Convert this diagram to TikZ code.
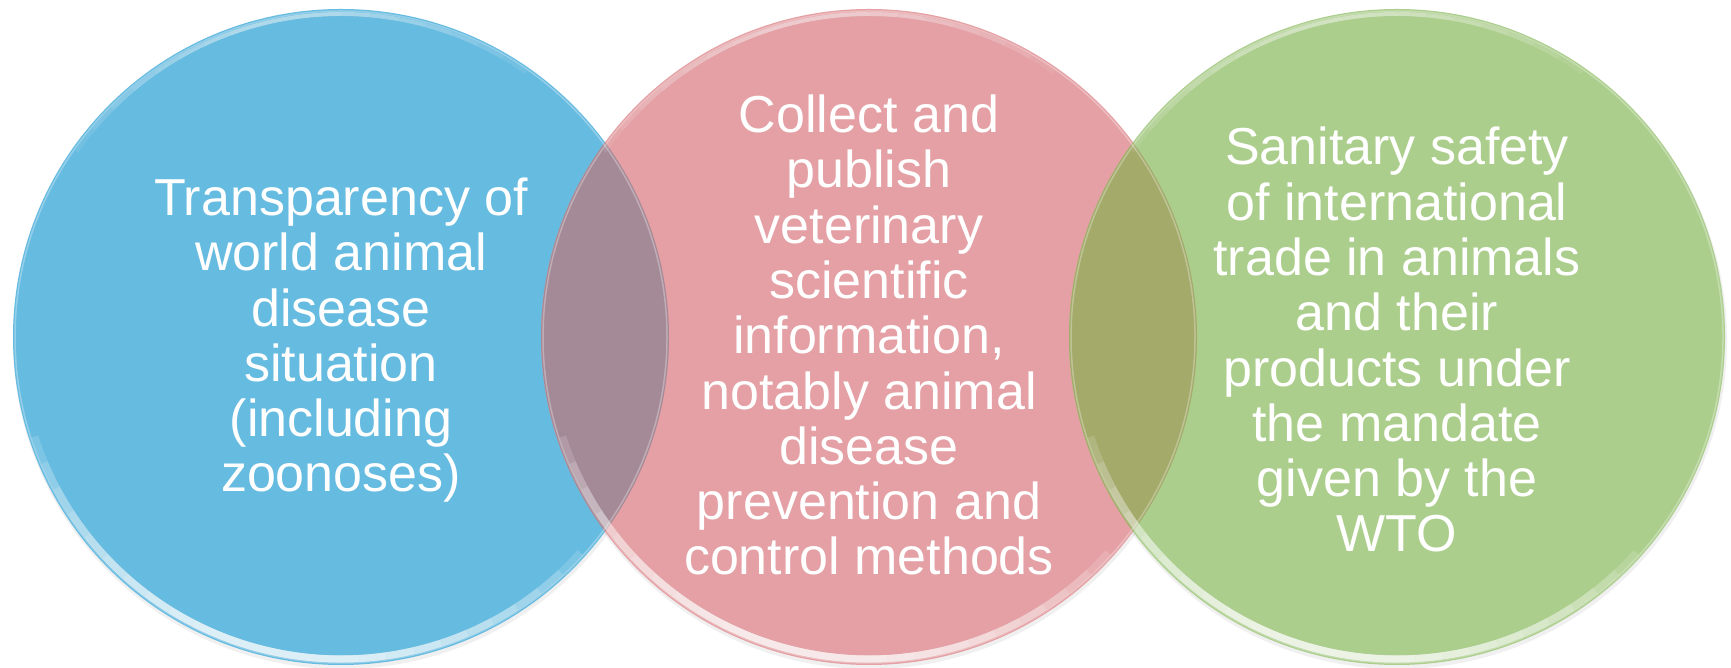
\documentclass[tikz,border=0pt]{standalone}
\usepackage{fontspec}
\setmainfont{Liberation Sans}
\definecolor{cblue}{HTML}{66BBE0}
\definecolor{cpink}{HTML}{E4A0A4}
\definecolor{cgreen}{HTML}{ACCE8D}
\definecolor{ovbp}{HTML}{A48996}
\definecolor{ovpg}{HTML}{A3AA6A}
\tikzset{
  disc/.style={circle, minimum size=656pt, inner sep=0pt, draw=none},
  txt/.style={text=white, align=center, inner sep=0pt,
    font=\fontsize{52}{55.3}\selectfont},
  toprim/.style={draw=white, line width=4pt, opacity=0.08, line cap=butt},
  botrim/.style={draw=white, line width=7pt, opacity=0.15, line cap=butt},
  edgeline/.style={draw=white, line width=1.5pt, opacity=0.3},
  shade/.style={fill=black, opacity=0.06}
}
\begin{document}
\begin{tikzpicture}[x=1pt,y=1pt]
\fill[white] (0,0) rectangle (1731,668);
\useasboundingbox (0,0) rectangle (1731,668);
% circle nodes
\node[disc] (c1) at (341,331) {};
\node[disc] (c2) at (869,331) {};
\node[disc] (c3) at (1397,331) {};
% soft shadows
\foreach \c in {c1,c2,c3}{
  \fill[shade] ([shift={(1,-3)}]\c.center) circle [radius=329];
}
% fills
\fill[cblue] (c1.center) circle [radius=328];
\fill[cpink] (c2.center) circle [radius=328];
\fill[cgreen] (c3.center) circle [radius=328];
% overlaps
\begin{scope}
  \clip (c1.center) circle [radius=328];
  \fill[ovbp] (c2.center) circle [radius=328];
\end{scope}
\begin{scope}
  \clip (c2.center) circle [radius=328];
  \fill[ovpg] (c3.center) circle [radius=328];
\end{scope}
% rims
\foreach \c in {c1,c2,c3}{
  \draw[edgeline] (\c.center) circle [radius=326];
  \foreach \k in {0,...,7}{
    \pgfmathsetmacro{\sa}{55+5*\k}
    \pgfmathsetmacro{\ea}{145-5*\k}
    \draw[toprim] ([shift={(\sa:323)}]\c.center) arc[start angle=\sa, end angle=\ea, radius=323];
  }
  \foreach \k in {0,...,9}{
    \pgfmathsetmacro{\sa}{198+5*\k}
    \pgfmathsetmacro{\ea}{318-5*\k}
    \draw[botrim] ([shift={(\sa:322)}]\c.center) arc[start angle=\sa, end angle=\ea, radius=322];
  }
}
% texts (base anchor = baseline of last line)
\node[txt, anchor=base] (t1) at (341,176)
  {Transparency of\\world animal\\disease\\situation\\(including\\zoonoses)};
\node[txt, anchor=base] (t2) at (869,93)
  {Collect and\\publish\\veterinary\\scientific\\information,\\notably animal\\disease\\prevention and\\control methods};
\node[txt, anchor=base] (t3) at (1397,116)
  {Sanitary safety\\of international\\trade in animals\\and their\\products under\\the mandate\\given by the\\WTO};
\end{tikzpicture}
\end{document}
